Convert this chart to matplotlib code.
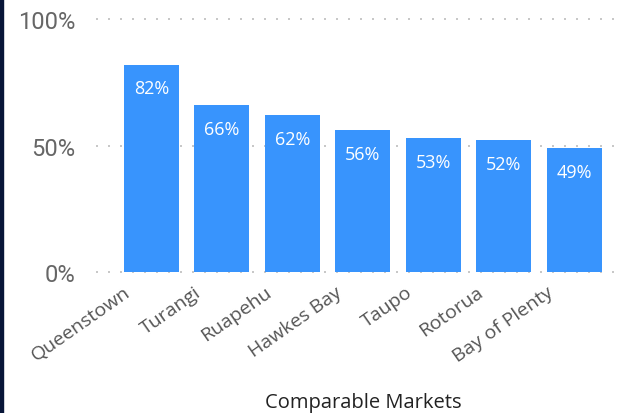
import matplotlib.pyplot as plt
from matplotlib.patches import Rectangle
from matplotlib.transforms import ScaledTranslation

markets = ["Queenstown", "Turangi", "Ruapehu", "Hawkes Bay", "Taupo", "Rotorua", "Bay of Plenty"]
share = [0.82, 0.66, 0.62, 0.56, 0.53, 0.52, 0.49]
yticks = [0, 0.5, 1.0]
ytick_labels = ["0%", "50%", "100%"]

W, H = 617, 414
fig = plt.figure(figsize=(W / 100, H / 100), dpi=100)
ax = fig.add_axes([96 / W, 1 - 273 / H, (617 - 96) / W, (273 - 20) / H])

x = list(range(len(markets)))
ax.bar(x, share, width=0.78, color="#3894FD", zorder=2)
ax.set_xlim(-0.787, 6.603)
ax.set_ylim(0, 1.0)

for xi, v in zip(x, share):
    ax.annotate(f"{v:.0%}", (xi, v), xytext=(0, -17), textcoords="offset points",
                ha="center", va="center", color="white", fontsize=13,
                family="Open Sans", zorder=3)

ax.set_yticks(yticks)
ax.set_yticklabels(ytick_labels, family="Roboto", fontsize=17, color="#666666")
ax.set_xticks(x)
ax.set_xticklabels(markets, rotation=35, ha="right", rotation_mode="anchor",
                   family="Open Sans", fontsize=14, color="#555555")
ax.tick_params(axis="both", length=0)
ax.tick_params(axis="y", pad=15)
ax.tick_params(axis="x", pad=6)
shift = ScaledTranslation(-28 / 100, -2 / 100, fig.dpi_scale_trans)
for lbl in ax.get_xticklabels():
    lbl.set_transform(lbl.get_transform() + shift)

ax.grid(axis="y", color="#C8C8C8", linestyle=(0, (1, 5)), linewidth=1.44, zorder=1)
for line in ax.get_ygridlines():
    line.set_clip_on(False)
for s in ax.spines.values():
    s.set_visible(False)

fig.text(363 / W, 1 - 403 / H, "Comparable Markets", ha="center", va="center",
         family="Open Sans", fontsize=14.5, color="#222222")

fig.patches.append(Rectangle((0, 0), 3 / W, 1, transform=fig.transFigure,
                             color="#081538", zorder=5))

fig.savefig("out.png", dpi=100)
